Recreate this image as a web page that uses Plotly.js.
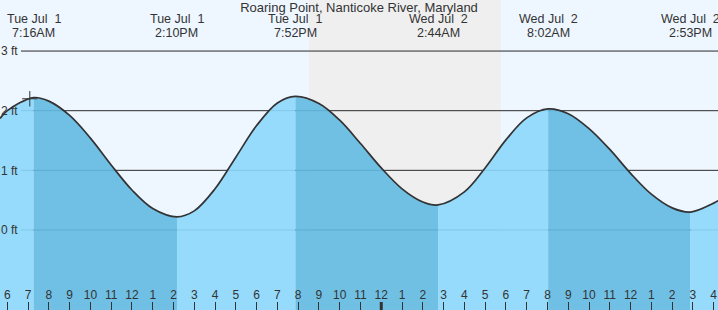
<!DOCTYPE html>
<html>
<head>
<meta charset="utf-8">
<script src="https://cdn.plot.ly/plotly-3.0.1.min.js"></script>
<style>html,body{margin:0;padding:0;background:#EEF6FF;}#chart{width:718px;height:310px;}</style>
</head>
<body>
<div id="chart"></div>
<script>
// ---- data ----
const times = [
  '2025-07-01 05:39','2025-07-01 06:00','2025-07-01 07:16','2025-07-01 08:00','2025-07-01 09:00',
  '2025-07-01 10:00','2025-07-01 11:00','2025-07-01 12:00','2025-07-01 13:00','2025-07-01 14:10',
  '2025-07-01 15:00','2025-07-01 16:00','2025-07-01 17:00','2025-07-01 18:00','2025-07-01 19:00',
  '2025-07-01 19:52','2025-07-01 21:00','2025-07-01 22:00','2025-07-01 23:00','2025-07-02 00:00',
  '2025-07-02 01:00','2025-07-02 02:00','2025-07-02 02:44','2025-07-02 04:00','2025-07-02 05:00',
  '2025-07-02 06:00','2025-07-02 07:00','2025-07-02 08:02','2025-07-02 09:00','2025-07-02 10:00',
  '2025-07-02 11:00','2025-07-02 12:00','2025-07-02 13:00','2025-07-02 14:00','2025-07-02 14:53',
  '2025-07-02 16:00','2025-07-02 16:13'
];
const levels = [
  1.87, 2.00, 2.22, 2.16, 1.92,
  1.54, 1.09, 0.67, 0.36, 0.22,
  0.32, 0.69, 1.22, 1.75, 2.13,
  2.24, 2.12, 1.84, 1.45, 1.04,
  0.69, 0.47, 0.42, 0.64, 1.04,
  1.51, 1.88, 2.03, 1.95, 1.70,
  1.35, 0.95, 0.60, 0.37, 0.30,
  0.45, 0.49
];
const extremaTimes = ['2025-07-01 07:16','2025-07-01 14:10','2025-07-01 19:52','2025-07-02 02:44','2025-07-02 08:02','2025-07-02 14:53'];
const extremaDay = ['Tue Jul\u00a0 1','Tue Jul\u00a0 1','Tue Jul\u00a0 1','Wed Jul\u00a0 2','Wed Jul\u00a0 2','Wed Jul\u00a0 2'];
const extremaClock = ['7:16AM','2:10PM','7:52PM','2:44AM','8:02AM','2:53PM'];
const yTicks = [0, 1, 2, 3];
const yTickText = ['0 ft', '1 ft', '2 ft', '3 ft'];
const sunset = '2025-07-01 20:31';
const sunrise = '2025-07-02 05:45';
const midnight = '2025-07-02 00:00';
const nowTime = '2025-07-01 07:05';
const nowLevel = 2.20;
const titleText = 'Roaring Point, Nanticoke River, Maryland';

// ---- layout constants ----
const X_RANGE = ['2025-07-01 05:38:56', '2025-07-02 16:12:29'];
const Y_MIN = -1.342, Y_MAX = 3.856;
const FONT = 'Liberation Sans, Arial, sans-serif';
const TXT = '#333333';
const DARK = 'rgba(98,186,226,0.9)';
const LIGHT = 'rgba(140,216,252,0.9)';

// ---- build traces ----
const traces = [];
const bounds = [0];
extremaTimes.forEach(t => { const i = times.indexOf(t); if (i > 0) bounds.push(i); });
bounds.push(times.length - 1);
for (let s = 0; s < bounds.length - 1; s++) {
  const a = bounds[s], b = bounds[s + 1];
  const xs = times.slice(a, b + 1), ys = levels.slice(a, b + 1);
  const rising = ys[ys.length - 1] > ys[0];
  traces.push({x: [xs[0], xs[xs.length - 1]], y: [Y_MIN, Y_MIN], mode: 'lines',
    line: {width: 0}, hoverinfo: 'skip', showlegend: false});
  traces.push({x: xs, y: ys, mode: 'lines', fill: 'tonexty', fillcolor: rising ? LIGHT : DARK,
    line: {width: 0, shape: 'spline', smoothing: 1}, hoverinfo: 'skip', showlegend: false});
}
traces.push({x: times, y: levels, mode: 'lines', line: {color: '#333333', width: 1.7, shape: 'spline', smoothing: 1},
  hoverinfo: 'skip', showlegend: false});
traces.push({x: [nowTime], y: [nowLevel], xaxis: 'x2', yaxis: 'y2', mode: 'markers',
  marker: {symbol: 'cross-thin', size: 11, line: {color: '#333333', width: 1}}, showlegend: false});

const shapes = [
  {type: 'rect', xref: 'x', yref: 'paper', x0: sunset, x1: sunrise, y0: 0, y1: 1,
   fillcolor: '#EFEFEF', line: {width: 0}, layer: 'below'}
];
yTicks.forEach(v => shapes.push({type: 'line', xref: 'paper', yref: 'y', x0: 21 / 718, x1: 1, y0: v, y1: v,
  line: {color: '#2b2b2b', width: 1}, layer: 'between'}));
shapes.push({type: 'line', xref: 'x', yref: 'paper', x0: midnight, x1: midnight, y0: 0, y1: 8 / 310,
  line: {color: '#333333', width: 3}, layer: 'above'});

const annotations = [];
extremaTimes.forEach((t, i) => {
  annotations.push({x: t, xref: 'x', y: 1, yref: 'paper', yanchor: 'middle', xanchor: 'center', yshift: -19,
    text: extremaDay[i], showarrow: false, font: {family: FONT, size: 12.5, color: TXT}});
  annotations.push({x: t, xref: 'x', y: 1, yref: 'paper', yanchor: 'middle', xanchor: 'center', yshift: -33,
    text: extremaClock[i], showarrow: false, font: {family: FONT, size: 12.5, color: TXT}});
});

const hourAxis = {type: 'date', range: X_RANGE, tickmode: 'linear', tick0: '2025-07-01 06:00', dtick: 3600000,
  tickformat: '%-I', showgrid: false, zeroline: false, showline: false, fixedrange: true};
const levelAxis = {range: [Y_MIN, Y_MAX], tickmode: 'array', tickvals: yTicks, ticktext: yTickText,
  ticks: '', showgrid: false, zeroline: false, showline: false, fixedrange: true};

const layout = {
  width: 718, height: 310,
  margin: {l: 0, r: 0, t: 0, b: 0, pad: 0},
  paper_bgcolor: '#EEF6FF', plot_bgcolor: '#EEF6FF',
  showlegend: false,
  font: {family: FONT, size: 12, color: TXT},
  title: {text: titleText, x: 0.5, xanchor: 'center', xref: 'paper', yref: 'container', y: 1 - 7 / 310, yanchor: 'middle',
    font: {family: FONT, size: 13, color: TXT}},
  xaxis: Object.assign({}, hourAxis, {ticks: 'inside', ticklen: 8, tickwidth: 1, tickcolor: TXT, showticklabels: false}),
  xaxis2: Object.assign({}, hourAxis, {overlaying: 'x', anchor: 'free', side: 'top', position: 9 / 310,
    ticks: '', showticklabels: true, tickfont: {family: FONT, size: 12, color: TXT}}),
  yaxis: Object.assign({}, levelAxis, {showticklabels: false}),
  yaxis2: Object.assign({}, levelAxis, {overlaying: 'y', anchor: 'free', side: 'right', position: 0,
    showticklabels: true, tickfont: {family: FONT, size: 12, color: TXT}}),
  shapes: shapes,
  annotations: annotations
};
Plotly.newPlot('chart', traces, layout, {displayModeBar: false, staticPlot: true});
</script>
</body>
</html>
